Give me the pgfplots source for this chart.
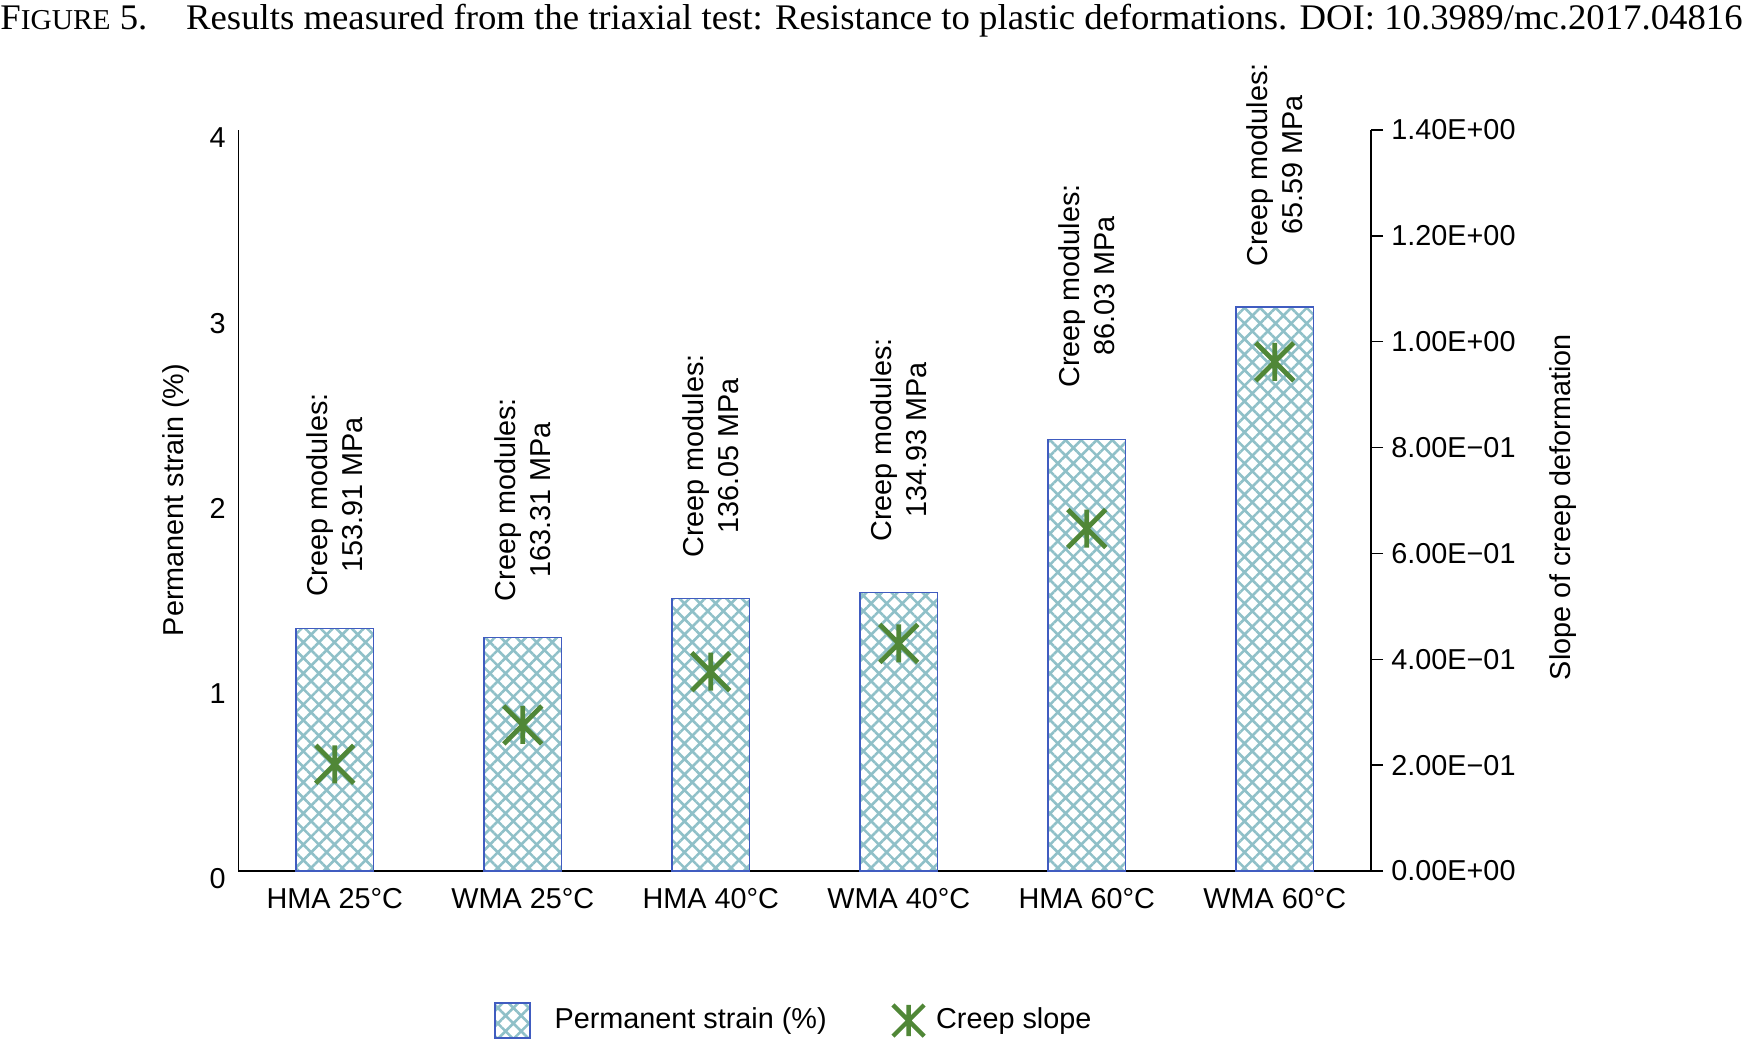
\documentclass[border=0pt]{standalone}
\usepackage{pgfplots}
\pgfplotsset{compat=1.18}
\usepackage{graphicx}
\usepackage{fontspec}
\setmainfont{Liberation Sans}
\newfontfamily\titlefont{Liberation Serif}
\usetikzlibrary{patterns.meta}
\definecolor{barblue}{RGB}{64,92,192}
\definecolor{hatchcol}{RGB}{143,192,200}
\definecolor{markgreen}{RGB}{80,135,55}
\pgfdeclareplotmark{creep}{%
  \pgfpathmoveto{\pgfqpoint{0pt}{\pgfplotmarksize}}%
  \pgfpathlineto{\pgfqpoint{0pt}{-\pgfplotmarksize}}%
  \pgfpathmoveto{\pgfqpoint{-\pgfplotmarksize}{\pgfplotmarksize}}%
  \pgfpathlineto{\pgfqpoint{\pgfplotmarksize}{-\pgfplotmarksize}}%
  \pgfpathmoveto{\pgfqpoint{-\pgfplotmarksize}{-\pgfplotmarksize}}%
  \pgfpathlineto{\pgfqpoint{\pgfplotmarksize}{\pgfplotmarksize}}%
  \pgfusepathqstroke}
\begin{document}
\fontsize{14.4pt}{17.6pt}\selectfont
\begin{tikzpicture}
\path[use as bounding box] (-119.25pt,-84pt) rectangle (752.75pt,435.5pt);
\node[anchor=base west, inner sep=0pt] at (-119.25pt,420.5pt) {\titlefont\fontsize{18pt}{20pt}\selectfont\resizebox{871pt}{\height}{F{\fontsize{14.4pt}{16pt}\selectfont IGURE} 5.\hspace{19pt}Results measured from the triaxial test: Resistance to plastic deformations. DOI: 10.3989/mc.2017.04816}};
\begin{axis}[
  at={(0pt,0pt)}, anchor=south west,
  scale only axis, width=566.25pt, height=370.5pt,
  xmin=-0.512, xmax=5.512, ymin=0, ymax=4,
  axis x line*=bottom, axis y line*=left,
  axis line style={-, line width=0.7pt, black},
  xtick={0,1,2,3,4,5},
  xticklabels={HMA 25°C, WMA 25°C, HMA 40°C, WMA 40°C, HMA 60°C, WMA 60°C},
  ytick={0,1,2,3,4}, yticklabels={0,1,2,3,4},
  major tick length=0pt,
  xticklabel style={anchor=north, inner sep=0pt, yshift=-8.25pt},
  yticklabel style={anchor=east, inner sep=0pt, xshift=-6.25pt, yshift=-4pt},
  ylabel={Permanent strain (\%)},
  ylabel style={at={(axis description cs:-0.0552,0.5007)}, anchor=center},
  clip=false,
  legend style={draw=none, fill=none, inner sep=0pt, outer sep=0pt,
    at={(axis description cs:0.2256,-0.2018)}, anchor=west,
    /tikz/column sep=12pt, nodes={inner sep=0pt}},
]
\addplot[ybar, bar width=38.65pt, bar shift=0pt, draw=barblue, line width=0.8pt,
  pattern={Hatch[angle=45,distance=5.5pt,line width=1.3pt]}, pattern color=hatchcol,
  legend image code/.code={\draw[draw=barblue, line width=0.8pt,
    pattern={Hatch[angle=45,distance=5.5pt,line width=1.3pt]}, pattern color=hatchcol]
    (0pt,-8.75pt) rectangle (17.5pt,8.75pt);}]
  coordinates {(0,1.31) (1,1.26) (2,1.472) (3,1.504) (4,2.33) (5,3.046)};
\addlegendentry{Permanent strain (\%)}
\node[rotate=90, anchor=west, align=center, inner sep=0pt, font=\fontsize{14.4pt}{17.8pt}\selectfont] at (axis cs:0,1.478) {Creep modules:\\153.91 MPa};
\node[rotate=90, anchor=west, align=center, inner sep=0pt, font=\fontsize{14.4pt}{17.8pt}\selectfont] at (axis cs:1,1.454) {Creep modules:\\163.31 MPa};
\node[rotate=90, anchor=west, align=center, inner sep=0pt, font=\fontsize{14.4pt}{17.8pt}\selectfont] at (axis cs:2,1.690) {Creep modules:\\136.05 MPa};
\node[rotate=90, anchor=west, align=center, inner sep=0pt, font=\fontsize{14.4pt}{17.8pt}\selectfont] at (axis cs:3,1.776) {Creep modules:\\134.93 MPa};
\node[rotate=90, anchor=west, align=center, inner sep=0pt, font=\fontsize{14.4pt}{17.8pt}\selectfont] at (axis cs:4,2.607) {Creep modules:\\86.03 MPa};
\node[rotate=90, anchor=west, align=center, inner sep=0pt, font=\fontsize{14.4pt}{17.8pt}\selectfont] at (axis cs:5,3.26) {Creep modules:\\65.59 MPa};
\end{axis}
\begin{axis}[
  at={(0pt,0pt)}, anchor=south west,
  scale only axis, width=566.25pt, height=370.5pt,
  xmin=-0.512, xmax=5.512, ymin=0, ymax=1.4,
  axis x line=none, axis y line*=right,
  axis line style={-, line width=0.7pt, black},
  ytick={0,0.2,0.4,0.6,0.8,1.0,1.2,1.4},
  yticklabels={0.00E+00,2.00E−01,4.00E−01,6.00E−01,8.00E−01,1.00E+00,1.20E+00,1.40E+00},
  tick align=outside, major tick length=6pt, tick style={black, line width=0.7pt},
  yticklabel style={anchor=west, inner sep=0pt, xshift=4pt},
  ylabel={Slope of creep deformation},
  ylabel style={at={(axis description cs:1.1695,0.491)}, anchor=center},
  clip=false,
  legend style={draw=none, fill=none, inner sep=0pt, outer sep=0pt,
    at={(axis description cs:0.5779,-0.2018)}, anchor=west,
    /tikz/column sep=6pt, nodes={inner sep=0pt}},
]
\addplot[only marks, mark=creep, mark size=9.5pt, color=markgreen, line width=2.4pt,
  legend image code/.code={\draw[markgreen, line width=2.2pt, mark size=7.8pt]
    plot[only marks, mark=creep] coordinates {(7.8pt,0pt)};}]
  coordinates {(0,0.2016) (1,0.276) (2,0.3766) (3,0.430) (4,0.647) (5,0.962)};
\addlegendentry{Creep slope}
\end{axis}
\end{tikzpicture}
\end{document}
